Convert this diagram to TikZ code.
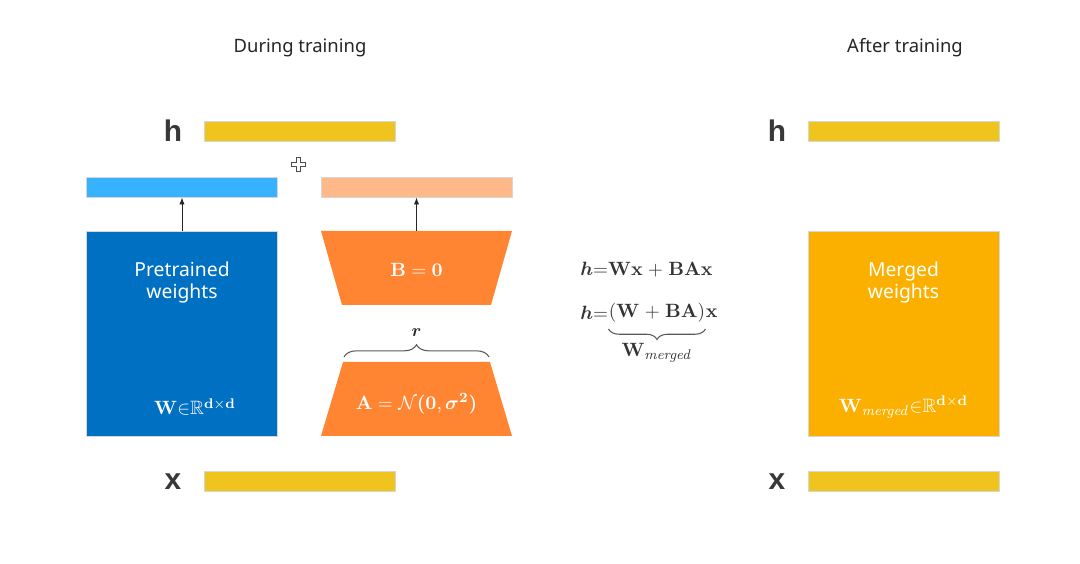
\documentclass[tikz,border=0pt]{standalone}
\usepackage{amsmath}
\usepackage{amssymb}
\usepackage{amsfonts}
\usepackage[no-math]{fontspec}
\usepackage{tikz}
\usetikzlibrary{positioning, decorations.pathreplacing, arrows.meta}
\newfontfamily\labelfont{Noto Sans}
\newfontfamily\varfont{Liberation Sans}
\definecolor{barGold}{HTML}{EFC41E}
\definecolor{wBlue}{HTML}{0070C2}
\definecolor{outBlue}{HTML}{38B1FF}
\definecolor{loraOrange}{HTML}{FF8532}
\definecolor{outPeach}{HTML}{FFB88A}
\definecolor{mergedGold}{HTML}{FBB000}
\definecolor{edgeGray}{HTML}{D6D6D6}
\tikzset{
    bar/.style={fill=barGold, draw=edgeGray, line width=0.5pt, minimum width=3.82cm, minimum height=0.4cm, inner sep=0pt},
    wbox/.style={draw=edgeGray, line width=0.5pt, minimum width=3.82cm, minimum height=4.1cm, inner sep=0pt},
    vlabel/.style={font=\varfont\bfseries\fontsize{17}{17}\selectfont, text=black!78},
    title/.style={font=\labelfont\fontsize{10.5}{12}\selectfont, text=black!85},
    boxtext/.style={font=\labelfont\fontsize{11}{12.5}\selectfont, text=white, align=center},
    mathtext/.style={font=\fontsize{11}{12}\selectfont, text=white},
    eqtext/.style={font=\fontsize{11}{12}\selectfont, text=black!80, inner sep=0pt},
    curly/.style={decorate, black!65, line width=0.6pt},
    up/.style={-{Latex[length=4pt,width=3pt]}, line width=0.5pt, black!85}
}

\begin{document}
\begin{tikzpicture}[x=0.02cm, y=-0.02cm]
    \useasboundingbox (0,0) rectangle (1080,564);

    % during training
    \node[title] (during) at (300,48) {During training};
    \node[vlabel] (hleft) at (173,131) {h};
    \node[bar] (hbar) at (299.5,131) {};
    \node[vlabel] (xleft) at (173,482) {x};
    \node[bar] (xbar) at (299.5,481) {};

    \node[bar, fill=outBlue] (wout) at (182,187) {};
    \node[bar, fill=outPeach] (bout) at (416.5,187) {};
    \draw[draw=black!70, fill=white, line width=0.4pt]
        (296,157) -- (300,157) -- (300,162) -- (305,162) -- (305,166) -- (300,166) -- (300,171)
        -- (296,171) -- (296,166) -- (291,166) -- (291,162) -- (296,162) -- cycle;

    \node[wbox, fill=wBlue] (W) at (182,333.5) {};
    \node[boxtext] (wname) at (182,282) {Pretrained\\weights};
    \node[mathtext] (wdim) at (195,407) {$\mathbf{W}{\in}\mathbb{R}^{\mathbf{d\times d}}$};
    \draw[up] (W.north) -- (wout.south);

    % low-rank pair
    \fill[loraOrange] (321,231) coordinate (Btop) -- (512,231) -- (491,305) -- (342,305) -- cycle;
    \node[mathtext] (bname) at (416.5,270) {$\mathbf{B = 0}$};
    \draw[up] (Btop -| bout.south) -- (bout.south);

    \fill[loraOrange] (343,362) coordinate (Atop) -- (490,362) -- (512,436) -- (321,436) -- cycle;
    \node[mathtext] (aname) at (416.5,404) {$\mathbf{A} = \mathcal{N}\boldsymbol{(}\mathbf{0},\boldsymbol{\sigma}^{\mathbf{2}}\boldsymbol{)}$};
    \coordinate (rl) at (344,357);
    \coordinate (rr) at (489,357);
    \draw[curly, decoration={brace, amplitude=7pt}] (rl) -- (rr)
        node[midway, above=8pt, text=black!85, font=\fontsize{10}{12}\selectfont] (rank) {$\boldsymbol{r}$};

    % equations
    \node[eqtext, anchor=west] (eqone) at (580,270) {$\boldsymbol{h}{=}\mathbf{Wx}\;{+}\;\mathbf{BAx}$};
    \node[eqtext, anchor=west] (eqtwoh) at (580,313) {$\boldsymbol{h}{=}$};
    \node[eqtext, right=0pt of eqtwoh] (eqtwob) {$\mathbf{(W}\;{+}\;\mathbf{BA)}$};
    \node[eqtext, right=0pt of eqtwob] (eqtwox) {$\mathbf{x}$};
    \draw[curly, decoration={brace, amplitude=6pt}]
        ([yshift=-0.12cm]eqtwob.south east) -- ([yshift=-0.12cm]eqtwob.south west)
        node[midway, below=8pt, eqtext] (wmerged) {$\mathbf{W}_{\mathit{merged}}$};

    % after training
    \node[title] (after) at (905,48) {After training};
    \node[vlabel] (hright) at (777,131) {h};
    \node[bar] (hbartwo) at (903.5,131) {};
    \node[vlabel] (xright) at (777,482) {x};
    \node[bar] (xbartwo) at (903.5,481) {};

    \node[wbox, fill=mergedGold] (M) at (903.5,333.5) {};
    \node[boxtext] (mname) at (903.5,282) {Merged\\weights};
    \node[mathtext] (mdim) at (903.5,407) {$\mathbf{W}_{\mathit{merged}}{\in}\mathbb{R}^{\mathbf{d\times d}}$};
\end{tikzpicture}
\end{document}
